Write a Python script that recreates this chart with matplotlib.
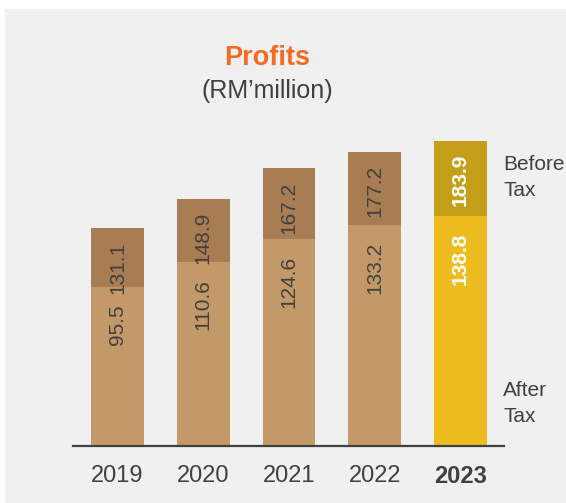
import matplotlib
matplotlib.use("Agg")
import matplotlib.pyplot as plt
from matplotlib.patches import Rectangle

plt.rcParams['font.family'] = ['Liberation Sans', 'DejaVu Sans']

years = ["2019", "2020", "2021", "2022", "2023"]
after_tax = [95.5, 110.6, 124.6, 133.2, 138.8]
before_tax = [131.1, 148.9, 167.2, 177.2, 183.9]

W, H, DPI = 566, 503, 100
fig = plt.figure(figsize=(W / DPI, H / DPI), dpi=DPI)
fig.patch.set_facecolor('white')
fig.patches.append(Rectangle((5 / W, 0), 1 - 5 / W, (H - 9) / H,
                             transform=fig.transFigure, facecolor='#F0F0F0',
                             edgecolor='none', zorder=-10))

ax_left, ax_right = 73, 504
ax_bottom_px, ax_top_px = 446, 114
ax = fig.add_axes([ax_left / W, (H - ax_bottom_px) / H,
                   (ax_right - ax_left) / W, (ax_bottom_px - ax_top_px) / H])
ax.set_facecolor('none')

x = list(range(len(years)))
bw = 53 / 86
low_c = ['#C4996A'] * 4 + ['#EDBC1F']
up_c = ['#A87D53'] * 4 + ['#C59F1A']
upper = [b - a for a, b in zip(after_tax, before_tax)]

ax.bar(x, after_tax, width=bw, color=low_c, zorder=2)
ax.bar(x, upper, bottom=after_tax, width=bw, color=up_c, zorder=2)

for i in x:
    last = i == len(years) - 1
    col = 'white' if last else '#404040'
    wt = 'bold' if last else 'normal'
    ax.annotate(f"{before_tax[i]:.1f}", (i, before_tax[i]), xytext=(0, -13),
                textcoords='offset pixels', rotation=90, ha='center', va='top',
                fontsize=15, color=col, fontweight=wt, zorder=3)
    ax.annotate(f"{after_tax[i]:.1f}", (i, after_tax[i]), xytext=(0, -17),
                textcoords='offset pixels', rotation=90, ha='center', va='top',
                fontsize=15, color=col, fontweight=wt, zorder=3)

ax.set_xlim(-44.5 / 86, 4 + 43.5 / 86)
ax.set_ylim(0, 200)
for s in ['top', 'right', 'left']:
    ax.spines[s].set_visible(False)
ax.spines['bottom'].set_color('#404040')
ax.spines['bottom'].set_linewidth(1.6)
ax.spines['bottom'].set_zorder(4)
ax.set_yticks([])
ax.set_xticks(x)
ax.set_xticklabels(years, fontsize=17, color='#404040')
ax.tick_params(axis='x', length=0, pad=14)
ax.get_xticklabels()[-1].set_fontweight('bold')

fig.text(267 / W, 1 - 58 / H, "Profits", ha='center', va='center',
         fontsize=19.5, fontweight='bold', color='#F36A21')
fig.text(267 / W, 1 - 91 / H, "(RM\u2019million)", ha='center', va='center',
         fontsize=18, color='#404040')
fig.text(503 / W, 1 - 155 / H, "Before\nTax", ha='left', va='top',
         fontsize=15, color='#404040', linespacing=1.45, multialignment='left')
fig.text(503 / W, 1 - 381 / H, "After\nTax", ha='left', va='top',
         fontsize=15, color='#404040', linespacing=1.45, multialignment='left')

fig.savefig("out.png", dpi=DPI)
